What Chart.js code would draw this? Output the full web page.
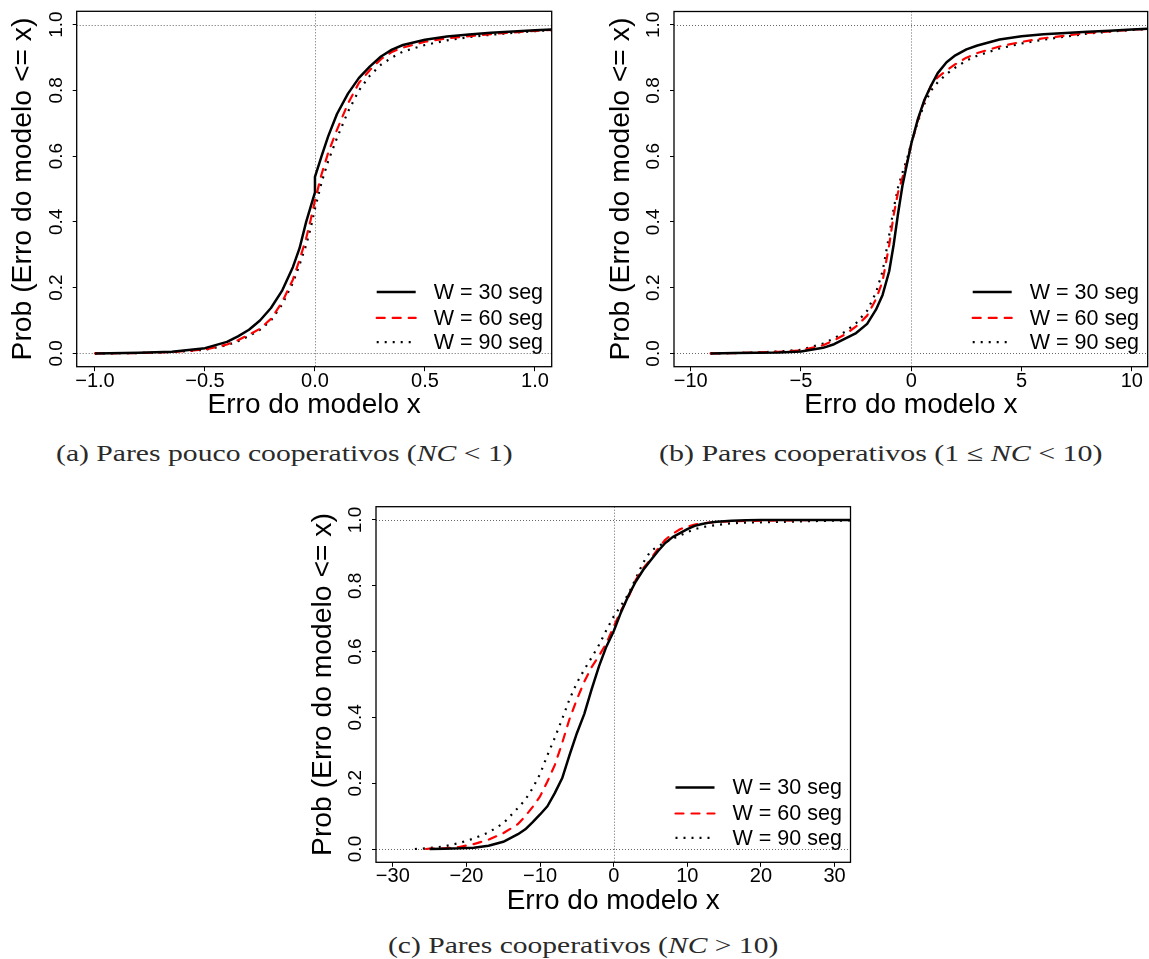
<!DOCTYPE html>
<html><head><meta charset="utf-8">
<script src="https://cdn.jsdelivr.net/npm/chart.js@4.4.1/dist/chart.umd.min.js"></script>
<style>
html,body{margin:0;padding:0;background:#fff;}
body{width:1149px;height:959px;overflow:hidden;position:relative;}
canvas{position:absolute;}
.cap{position:absolute;white-space:nowrap;font-family:'Liberation Serif','DejaVu Serif',serif;font-size:23px;line-height:23px;color:#2a2a2a;transform-origin:0 0;}
</style></head><body>
<div class="cap" id="capA">(a) Pares pouco cooperativos (<i>NC</i> &lt; 1)</div>
<div class="cap" id="capB">(b) Pares cooperativos (1 &le; <i>NC</i> &lt; 10)</div>
<div class="cap" id="capC">(c) Pares cooperativos (<i>NC</i> &gt; 10)</div>
<script>
// ---------------- data ----------------
const legendLabels = ['W = 30 seg', 'W = 60 seg', 'W = 90 seg'];
const yTicks = [0, 0.2, 0.4, 0.6, 0.8, 1.0];
const yTickLabels = ['0.0', '0.2', '0.4', '0.6', '0.8', '1.0'];
const refY = [0, 1];
const refX = [0];

// panel (a)
const aXTicks = [-1, -0.5, 0, 0.5, 1];
const aXTickLabels = ['\u22121.0', '\u22120.5', '0.0', '0.5', '1.0'];
const aX   = [-1.0, -0.8, -0.65, -0.5, -0.4, -0.35, -0.3, -0.25, -0.2, -0.15, -0.1, -0.07, -0.04, -0.02, 0.0, 0.0, 0.03, 0.06, 0.1, 0.15, 0.2, 0.25, 0.3, 0.35, 0.4, 0.5, 0.6, 0.7, 0.8, 0.9, 1.0, 1.1];
const aW30 = [0.0, 0.002, 0.005, 0.016, 0.035, 0.052, 0.072, 0.10, 0.138, 0.19, 0.263, 0.32, 0.40, 0.445, 0.49, 0.537, 0.60, 0.66, 0.728, 0.79, 0.838, 0.873, 0.903, 0.924, 0.938, 0.954, 0.964, 0.97, 0.975, 0.979, 0.983, 0.986];
const aW60 = [0.0, 0.001, 0.004, 0.012, 0.027, 0.04, 0.057, 0.075, 0.105, 0.155, 0.225, 0.285, 0.35, 0.405, 0.465, 0.465, 0.545, 0.61, 0.68, 0.76, 0.823, 0.862, 0.895, 0.917, 0.93, 0.948, 0.958, 0.965, 0.971, 0.976, 0.981, 0.985];
const aW90 = [0.0, 0.001, 0.004, 0.011, 0.025, 0.037, 0.053, 0.072, 0.1, 0.148, 0.215, 0.27, 0.33, 0.38, 0.44, 0.44, 0.52, 0.585, 0.655, 0.735, 0.8, 0.845, 0.878, 0.9, 0.918, 0.938, 0.952, 0.962, 0.969, 0.975, 0.98, 0.984];

// panel (b)
const bXTicks = [-10, -5, 0, 5, 10];
const bXTickLabels = ['\u221210', '\u22125', '0', '5', '10'];
const bX   = [-9.1, -8, -7, -6, -5, -4, -3.5, -3, -2.5, -2, -1.6, -1.3, -1.0, -0.8, -0.6, -0.4, -0.2, 0, 0.3, 0.6, 0.9, 1.2, 1.6, 2.0, 2.5, 3.0, 4.0, 5.0, 6.0, 7.0, 8.0, 9.0, 10.0, 11.0];
const bW30 = [0, 0.001, 0.002, 0.003, 0.006, 0.017, 0.028, 0.045, 0.062, 0.09, 0.133, 0.178, 0.25, 0.33, 0.425, 0.51, 0.575, 0.638, 0.713, 0.772, 0.815, 0.853, 0.886, 0.907, 0.925, 0.937, 0.955, 0.965, 0.971, 0.975, 0.979, 0.982, 0.986, 0.989];
const bW60 = [0, 0.001, 0.003, 0.005, 0.009, 0.025, 0.04, 0.058, 0.082, 0.115, 0.165, 0.22, 0.33, 0.42, 0.49, 0.535, 0.58, 0.635, 0.71, 0.77, 0.815, 0.84, 0.861, 0.88, 0.9, 0.914, 0.934, 0.948, 0.959, 0.967, 0.975, 0.98, 0.985, 0.989];
const bW90 = [0, 0.001, 0.003, 0.006, 0.011, 0.03, 0.046, 0.066, 0.092, 0.13, 0.185, 0.25, 0.36, 0.44, 0.505, 0.55, 0.59, 0.64, 0.705, 0.76, 0.8, 0.825, 0.85, 0.87, 0.891, 0.906, 0.928, 0.943, 0.955, 0.964, 0.973, 0.979, 0.984, 0.988];

// panel (c)
const cXTicks = [-30, -20, -10, 0, 10, 20, 30];
const cXTickLabels = ['\u221230', '\u221220', '\u221210', '0', '10', '20', '30'];
const cX   = [-27, -25.5, -25, -23, -21, -19, -17, -15, -13, -12, -11, -10, -9, -8, -7, -6, -5, -4, -3, -2, -1, 0, 1, 2, 3, 4, 5, 6, 7, 8, 9, 10, 11, 12, 13, 14, 16, 18, 20, 24, 28, 33];
const cW30 = [null, null, 0, 0.001, 0.002, 0.004, 0.01, 0.022, 0.045, 0.06, 0.082, 0.105, 0.13, 0.17, 0.215, 0.285, 0.352, 0.41, 0.485, 0.555, 0.615, 0.662, 0.72, 0.77, 0.813, 0.848, 0.877, 0.905, 0.93, 0.948, 0.96, 0.972, 0.982, 0.988, 0.992, 0.995, 0.998, 0.999, 1.0, 1.0, 1.0, 1.0];
const cW60 = [null, 0, 0.001, 0.002, 0.006, 0.015, 0.028, 0.048, 0.076, 0.1, 0.128, 0.16, 0.205, 0.255, 0.322, 0.395, 0.455, 0.508, 0.553, 0.587, 0.625, 0.676, 0.725, 0.765, 0.818, 0.853, 0.88, 0.912, 0.94, 0.958, 0.972, 0.98, 0.986, 0.99, 0.992, 0.994, 0.996, 0.997, 0.998, 0.999, 1.0, 1.0];
const cW90 = [0, 0.002, 0.003, 0.008, 0.018, 0.032, 0.05, 0.078, 0.125, 0.15, 0.185, 0.228, 0.285, 0.338, 0.395, 0.455, 0.505, 0.545, 0.582, 0.62, 0.665, 0.707, 0.74, 0.775, 0.822, 0.87, 0.905, 0.92, 0.932, 0.943, 0.953, 0.963, 0.972, 0.978, 0.982, 0.985, 0.99, 0.992, 0.993, 0.995, 0.997, 0.999];

// ---------------- styling / layout ----------------
const FONT = "'Liberation Sans', Arial, Helvetica, sans-serif";
const STY = [
  {color: '#000000', width: 2.5, dash: [], cap: 'butt'},
  {color: '#ff0000', width: 2.2, dash: [8, 8], cap: 'round'},
  {color: '#000000', width: 2.2, dash: [2, 6], cap: 'butt'}
];
const LEG_ROWS = [-74.8, -48.8, -24.5];

const framePlugin = {
  id: 'frame',
  beforeDatasetsDraw(chart) {
    const {ctx, chartArea: a, scales: {x, y}} = chart;
    ctx.save();
    ctx.strokeStyle = '#666';
    ctx.lineWidth = 1;
    ctx.setLineDash([1, 2]);
    refY.forEach(v => {
      const py = Math.round(y.getPixelForValue(v)) + 0.5;
      ctx.beginPath(); ctx.moveTo(a.left, py); ctx.lineTo(a.right, py); ctx.stroke();
    });
    refX.forEach(v => {
      const px = Math.round(x.getPixelForValue(v)) + 0.5;
      ctx.beginPath(); ctx.moveTo(px, a.top); ctx.lineTo(px, a.bottom); ctx.stroke();
    });
    ctx.restore();
  },
  afterDatasetsDraw(chart) {
    const {ctx, chartArea: a} = chart;
    ctx.save();
    ctx.strokeStyle = '#000';
    ctx.lineWidth = 1.3;
    ctx.setLineDash([]);
    ctx.strokeRect(a.left, a.top, a.right - a.left, a.bottom - a.top);
    // legend
    ctx.font = '21.5px ' + FONT;
    ctx.textBaseline = 'middle';
    ctx.textAlign = 'left';
    ctx.fillStyle = '#000';
    chart.data.datasets.forEach((d, k) => {
      const yy = a.bottom + LEG_ROWS[k];
      ctx.save();
      ctx.strokeStyle = d.borderColor;
      ctx.lineWidth = d.borderWidth;
      ctx.setLineDash(d.borderDash);
      ctx.lineCap = d.borderCapStyle;
      ctx.beginPath(); ctx.moveTo(a.right - 175, yy); ctx.lineTo(a.right - 136, yy); ctx.stroke();
      ctx.restore();
      ctx.fillText(d.label, a.right - 118, yy + 1);
    });
    ctx.restore();
  }
};

function panel(geom, xr, xTicks, xTickLabels, xs, ys) {
  const cl = Math.round(geom.l) - 77, ct = Math.round(geom.t) - 11;
  const cw = Math.round(geom.r) + 6 - cl, ch = Math.round(geom.b) + 53 - ct;
  const cv = document.createElement('canvas');
  cv.width = cw; cv.height = ch;
  cv.style.left = cl + 'px'; cv.style.top = ct + 'px';
  cv.style.width = cw + 'px'; cv.style.height = ch + 'px';
  document.body.appendChild(cv);
  const Wy = geom.l - cl, padTop = geom.t - ct, padRight = cl + cw - geom.r, Hx = ct + ch - geom.b;
  const datasets = ys.map((arr, k) => ({
    label: legendLabels[k],
    data: xs.map((xv, i) => ({x: xv, y: arr[i]})),
    borderColor: STY[k].color,
    borderWidth: STY[k].width,
    borderDash: STY[k].dash,
    borderCapStyle: STY[k].cap,
    borderJoinStyle: 'round',
    pointRadius: 0,
    fill: false,
    tension: 0,
    spanGaps: false
  }));
  new Chart(cv, {
    type: 'line',
    data: {datasets},
    options: {
      responsive: false,
      animation: false,
      devicePixelRatio: 1,
      layout: {padding: {left: 0, top: padTop, right: padRight, bottom: 0}},
      plugins: {legend: {display: false}, tooltip: {enabled: false}},
      scales: {
        x: {
          type: 'linear', position: 'bottom', min: xr[0], max: xr[1],
          afterBuildTicks: s => { s.ticks = xTicks.map(v => ({value: v})); },
          afterFit: s => { s.height = Hx; s.paddingLeft = 0; s.paddingRight = 0; },
          ticks: {callback: (v, i) => xTickLabels[i], font: {family: FONT, size: 20, lineHeight: 1}, color: '#000', padding: 0, maxRotation: 0, minRotation: 0, autoSkip: false},
          grid: {drawOnChartArea: false, drawTicks: true, tickLength: 4.5, color: '#000', tickColor: '#000', lineWidth: 1},
          border: {display: false},
          title: {display: true, text: 'Erro do modelo x', font: {family: FONT, size: 28, lineHeight: 1}, color: '#000', padding: {top: 0, bottom: Hx - 52.5}}
        },
        y: {
          type: 'linear', position: 'left', min: -0.0404, max: 1.0404,
          afterBuildTicks: s => { s.ticks = yTicks.map(v => ({value: v})); },
          afterFit: s => { s.width = Wy; s.paddingTop = 0; s.paddingBottom = 0; },
          ticks: {callback: (v, i) => yTickLabels[i], font: {family: FONT, size: 19, lineHeight: 1}, color: '#000', padding: 2.8, minRotation: 90, maxRotation: 90, crossAlign: 'center', autoSkip: false},
          grid: {drawOnChartArea: false, drawTicks: true, tickLength: 4, color: '#000', tickColor: '#000', lineWidth: 1},
          border: {display: false},
          title: {display: true, text: 'Prob (Erro do modelo <= x)', font: {family: FONT, size: 28.3, lineHeight: 1}, color: '#000', padding: {top: Wy - 67.2, bottom: 0}}
        }
      }
    },
    plugins: [framePlugin]
  });
}

panel({l: 76.7, t: 11.3, r: 551.7, b: 366.7}, [-1.083, 1.076], aXTicks, aXTickLabels, aX, [aW30, aW60, aW90]);
panel({l: 674, t: 11.5, r: 1147.7, b: 366.7}, [-10.757, 10.72], bXTicks, bXTickLabels, bX, [bW30, bW60, bW90]);
panel({l: 376, t: 506.7, r: 850.5, b: 862.3}, [-32.28, 32.16], cXTicks, cXTickLabels, cX, [cW30, cW60, cW90]);

function fitCaption(id, left, right, baseline) {
  const el = document.getElementById(id);
  el.style.transform = 'none';
  el.style.left = left + 'px';
  el.style.top = (baseline - 19.3) + 'px';
  const w = el.getBoundingClientRect().width;
  el.style.transform = 'scaleX(' + ((right - left) / w) + ')';
}
function fitAll() {
  fitCaption('capA', 56.4, 513, 461);
  fitCaption('capB', 659, 1102.5, 461);
  fitCaption('capC', 388, 778.3, 953.3);
}
fitAll();
if (document.fonts && document.fonts.ready) document.fonts.ready.then(fitAll);
</script>
</body></html>
